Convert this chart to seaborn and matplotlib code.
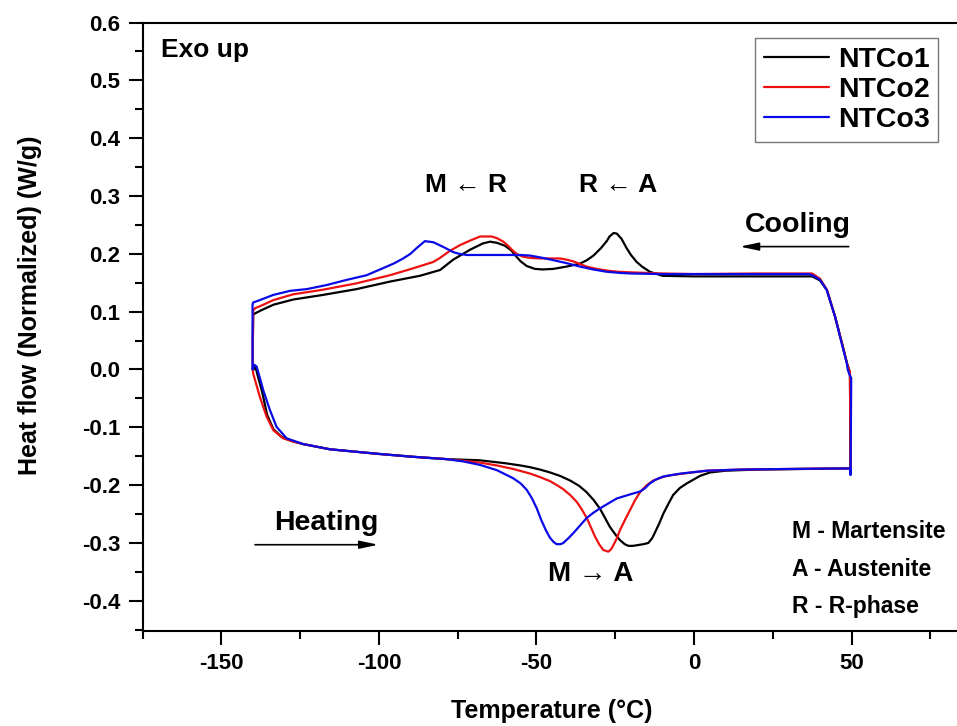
import matplotlib
matplotlib.use("Agg")
import matplotlib.pyplot as plt
import seaborn as sns
import numpy as np

# DSC loops, digitised: cooling branch (right -> left) then heating branch (left -> right)
t_ntco1 = [49.7, 49.5, 48.6, 47.0, 44.8, 42.2, 40.0, 37.5, 20, 0, -10, -14, -16.5, -18.2, -20, -21.4, -23, -24.5,
           -25.5, -26.8, -27.7, -29.5, -31.9, -34, -36.2, -40.4, -44.6, -48, -50.5, -53.1, -55, -56.5, -58, -60,
           -62.5, -64.7, -67, -71.1, -76.4, -80.6, -87, -96.5, -107.1, -117.7, -127.2, -133.5, -137.5, -139.3,
           -139.9, -140.0, -140.0, -139.2, -138.5, -137.0, -135.5, -133.5, -131, -128, -124, -115.5, -100, -89,
           -78.5, -68, -60, -55, -52, -48.9, -45.7, -42.5, -39.3, -36.5, -34.1, -31.8, -29.8, -28.2, -26.7, -25,
           -23.5, -22, -20.8, -19.5, -18.2, -16, -14.5, -13.3, -12.4, -11, -9.7, -8, -6.6, -4.5, -2.3, 1.9, 5.1,
           10, 20, 35, 49.6, 49.7]
hf_ntco1 = [-0.180, -0.005, 0.010, 0.045, 0.091, 0.137, 0.154, 0.161, 0.161, 0.161, 0.162, 0.169, 0.178, 0.186,
            0.198, 0.210, 0.226, 0.235, 0.236, 0.230, 0.222, 0.210, 0.197, 0.189, 0.183, 0.178, 0.174, 0.173,
            0.174, 0.179, 0.187, 0.196, 0.206, 0.214, 0.219, 0.221, 0.218, 0.207, 0.190, 0.172, 0.162, 0.152,
            0.139, 0.129, 0.121, 0.112, 0.102, 0.097, 0.095, 0.05, -0.002, 0.005, -0.010, -0.040, -0.078, -0.103,
            -0.116, -0.123, -0.129, -0.138, -0.146, -0.151, -0.155, -0.157, -0.162, -0.166, -0.169, -0.173,
            -0.178, -0.184, -0.192, -0.201, -0.212, -0.226, -0.241, -0.257, -0.272, -0.285, -0.295, -0.302,
            -0.305, -0.305, -0.304, -0.302, -0.300, -0.292, -0.282, -0.266, -0.249, -0.231, -0.217, -0.205,
            -0.197, -0.184, -0.178, -0.175, -0.173, -0.172, -0.171, -0.180]

t_ntco2 = [49.7, 49.5, 48.6, 47.0, 44.8, 42.2, 40.0, 37.5, 20, 0, -10, -15, -20.3, -24, -27.7, -31, -34.1, -36.5,
           -38.3, -40.5, -42.5, -48.9, -52, -54.2, -56, -57.4, -59, -60.5, -62.5, -64.2, -67.9, -71, -74.3, -77.5,
           -80.6, -82.7, -89.1, -96.5, -107.1, -117.7, -127.2, -133.5, -137.5, -139.3, -139.9, -140.0, -140.0,
           -139.9, -137.8, -135.6, -133.5, -130.4, -127, -124, -115.5, -100, -89, -78.5, -73, -67.9, -62.5,
           -57.4, -52, -48.9, -45.7, -43.5, -41.5, -39.3, -37.2, -35.6, -34.1, -32.7, -31.4, -30, -28.8, -27.2,
           -26.3, -25.6, -24.5, -23.5, -21.9, -20.3, -18.7, -17.1, -15, -12.9, -10, -7.6, -2, 4.1, 15, 30, 49.6,
           49.7]
hf_ntco2 = [-0.180, -0.005, 0.010, 0.045, 0.091, 0.138, 0.157, 0.166, 0.166, 0.165, 0.166, 0.167, 0.168, 0.169,
            0.171, 0.174, 0.178, 0.183, 0.187, 0.190, 0.192, 0.192, 0.193, 0.195, 0.199, 0.205, 0.214, 0.221,
            0.227, 0.230, 0.230, 0.223, 0.215, 0.205, 0.193, 0.186, 0.175, 0.163, 0.149, 0.138, 0.130, 0.120,
            0.110, 0.106, 0.102, 0.05, -0.002, -0.007, -0.047, -0.082, -0.105, -0.119, -0.125, -0.129, -0.138,
            -0.146, -0.151, -0.155, -0.158, -0.161, -0.166, -0.172, -0.180, -0.186, -0.193, -0.200, -0.207,
            -0.217, -0.229, -0.242, -0.256, -0.273, -0.289, -0.303, -0.312, -0.315, -0.311, -0.304, -0.292,
            -0.278, -0.260, -0.243, -0.226, -0.212, -0.200, -0.192, -0.186, -0.183, -0.179, -0.175, -0.173,
            -0.172, -0.171, -0.180]

t_ntco3 = [49.7, 49.8, 49.9, 49.3, 48.8, 48.5, 46.9, 44.8, 42.1, 40.0, 37.9, 36.5, 20, 0, -10, -20, -23.5,
           -27.7, -32, -36.2, -40.5, -44.6, -48, -52, -55, -62, -72.1, -74.5, -76.4, -79.6, -82.7, -85.4, -88,
           -90, -92.3, -95, -97.5, -103.9, -110.2, -116.6, -122.9, -128.2, -133.5, -137.8, -139.3, -139.9,
           -140.1, -140.1, -140.1, -139.5, -138.8, -137.5, -136.7, -134.6, -132.5, -129.3, -124, -115.5, -100,
           -89, -78.5, -73.2, -67.9, -62.6, -57.4, -55, -53.1, -51.5, -49.9, -48.5, -47, -45.7, -44.6, -43.6,
           -42.3, -41.5, -39.9, -38.3, -36.2, -34.1, -32, -29.8, -27, -24.5, -20.3, -17.1, -15.5, -14, -12,
           -9.7, -4.3, 4.1, 15, 30, 49.6, 49.7]
hf_ntco3 = [-0.182, -0.10, -0.015, -0.008, 0.0, 0.011, 0.045, 0.091, 0.138, 0.155, 0.162, 0.165, 0.165, 0.165,
            0.165, 0.166, 0.167, 0.169, 0.173, 0.178, 0.184, 0.189, 0.193, 0.197, 0.198, 0.198, 0.198, 0.200,
            0.203, 0.212, 0.220, 0.222, 0.210, 0.200, 0.192, 0.184, 0.178, 0.163, 0.155, 0.146, 0.139, 0.136,
            0.129, 0.120, 0.117, 0.116, 0.112, 0.05, 0.0, 0.008, 0.005, -0.020, -0.036, -0.070, -0.099, -0.119,
            -0.129, -0.138, -0.146, -0.151, -0.155, -0.159, -0.165, -0.174, -0.188, -0.197, -0.208, -0.222,
            -0.240, -0.260, -0.278, -0.291, -0.298, -0.302, -0.302, -0.300, -0.292, -0.283, -0.270, -0.257,
            -0.248, -0.240, -0.231, -0.223, -0.216, -0.211, -0.205, -0.197, -0.190, -0.185, -0.180, -0.175,
            -0.173, -0.172, -0.171, -0.182]

samples = ["NTCo1", "NTCo2", "NTCo3"]
colors = ["#000000", "#ee1111", "#0a0ae6"]
x_ticks = [-150, -100, -50, 0, 50]
y_ticks = [-0.4, -0.3, -0.2, -0.1, 0.0, 0.1, 0.2, 0.3, 0.4, 0.5, 0.6]

sns.set_theme(style="ticks")
plt.rcParams['font.family'] = ['Liberation Sans', 'DejaVu Sans']
plt.rcParams['font.weight'] = 'bold'
plt.rcParams['axes.unicode_minus'] = False
for key in ['text.color', 'axes.labelcolor', 'xtick.color', 'ytick.color', 'axes.edgecolor']:
    plt.rcParams[key] = 'black'

fig = plt.figure(figsize=(9.57, 7.26), dpi=100)
ax = fig.add_axes([0.149, 0.131, 0.856, 0.838])

for name, t, hf, c in zip(samples, [t_ntco1, t_ntco2, t_ntco3], [hf_ntco1, hf_ntco2, hf_ntco3], colors):
    sns.lineplot(x=t, y=hf, sort=False, estimator=None, color=c, lw=1.6, label=name, ax=ax, legend=False)

ax.set_xlim(-175, 85)
ax.set_ylim(-0.452, 0.6)
ax.set_xticks(x_ticks)
ax.set_yticks(y_ticks)
ax.xaxis.set_minor_locator(matplotlib.ticker.MultipleLocator(25))
ax.yaxis.set_minor_locator(matplotlib.ticker.MultipleLocator(0.05))
ax.yaxis.set_major_formatter(matplotlib.ticker.FormatStrFormatter('%.1f'))
ax.tick_params(which='major', direction='out', length=10, width=1.5, labelsize=16, pad=6, colors='black')
ax.tick_params(which='minor', direction='out', length=5.5, width=1.5)
for lbl in ax.get_xticklabels() + ax.get_yticklabels():
    lbl.set_fontweight('bold')
for s in ['left', 'bottom', 'top']:
    ax.spines[s].set_linewidth(1.5)
ax.spines['right'].set_visible(False)

ax.set_xlabel("Temperature (°C)", fontsize=18, fontweight='bold', labelpad=18)
ax.set_ylabel("Heat flow (Normalized) (W/g)", fontsize=18, fontweight='bold')
ax.yaxis.set_label_coords(-0.123, 0.536)

ax.text(-169.2, 0.553, "Exo up", fontsize=19, fontweight='bold', va='center', ha='left')
ax.text(-72.5, 0.319, "M ← R", fontsize=19, fontweight='bold', va='center', ha='center')
ax.text(-24.1, 0.319, "R ← A", fontsize=19, fontweight='bold', va='center', ha='center')
ax.text(33.1, 0.25, "Cooling", fontsize=20.5, fontweight='bold', va='center', ha='center')
ax.text(-116.6, -0.266, "Heating", fontsize=20.5, fontweight='bold', va='center', ha='center')
ax.text(-32.7, -0.353, "M → A", fontsize=20, fontweight='bold', va='center', ha='center')
ax.text(31.0, -0.28, "M - Martensite", fontsize=16.5, fontweight='bold', va='center', ha='left')
ax.text(31.0, -0.345, "A - Austenite", fontsize=16.5, fontweight='bold', va='center', ha='left')
ax.text(31.0, -0.409, "R - R-phase", fontsize=16.5, fontweight='bold', va='center', ha='left')

arrow_style = dict(arrowstyle='-|>,head_length=0.8,head_width=0.17', lw=1.2, color='black', mutation_scale=14)
ax.annotate("", xy=(13.7, 0.2125), xytext=(50.0, 0.2125), arrowprops=arrow_style)
ax.annotate("", xy=(-99.3, -0.303), xytext=(-140.2, -0.303), arrowprops=arrow_style)

leg = ax.legend(loc='upper right', bbox_to_anchor=(0.971, 0.974), frameon=True, fancybox=False,
                edgecolor='#555555', prop={'weight': 'bold', 'size': 20.5}, handlelength=2.3,
                handletextpad=0.3, labelspacing=0.15, borderpad=0.3, borderaxespad=0)
leg.get_frame().set_linewidth(1.0)
for line in leg.get_lines():
    line.set_linewidth(1.6)

fig.savefig("out.png", dpi=100)
